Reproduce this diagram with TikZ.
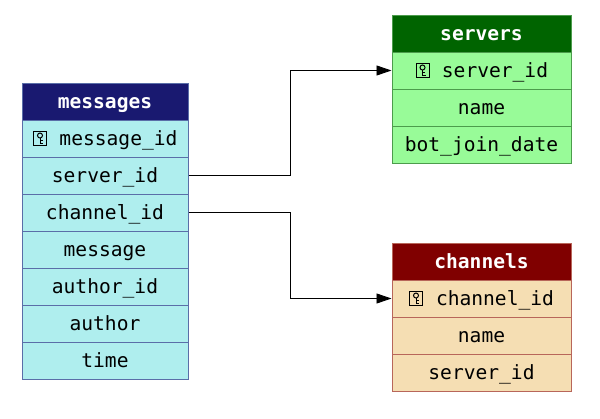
\documentclass[tikz,border=0pt]{standalone}
\usepackage{fontspec}
\setmonofont{DejaVu Sans Mono}
\usetikzlibrary{arrows.meta}
\definecolor{mhead}{HTML}{191970}
\definecolor{mrow}{HTML}{AFEEEE}
\definecolor{mline}{HTML}{5A6EA8}
\definecolor{shead}{HTML}{006400}
\definecolor{srow}{HTML}{98FB98}
\definecolor{sline}{HTML}{4C9C4C}
\definecolor{chead}{HTML}{800000}
\definecolor{crow}{HTML}{F5DEB3}
\definecolor{cline}{HTML}{B8665A}
\newcommand{\keygap}{\hspace*{27pt}}
\tikzset{
  x=1pt,y=-1pt,
  cell/.style={draw,line width=1pt,inner sep=0pt,minimum height=37pt,anchor=center,
    font=\ttfamily\fontsize{19.6}{20}\selectfont,text depth=2pt,text height=16pt},
  headfont/.style={text=white,font=\ttfamily\bfseries\fontsize{19.6}{20}\selectfont},
  mh/.style={cell,fill=mhead,draw=mline,minimum width=166pt,headfont},
  mr/.style={cell,fill=mrow,draw=mline,minimum width=166pt},
  sh/.style={cell,fill=shead,draw=sline,minimum width=179pt,headfont},
  sr/.style={cell,fill=srow,draw=sline,minimum width=179pt},
  ch/.style={cell,fill=chead,draw=cline,minimum width=179pt,headfont},
  cr/.style={cell,fill=crow,draw=cline,minimum width=179pt},
  link/.style={draw=black,line width=0.9pt,-{Triangle[length=15pt,width=10pt]}},
  keyicon/.pic={
    \draw[line width=1pt] (-6.5,-7) rectangle (6.5,7);
    \draw[line width=1pt] (0,-3) circle (2.5);
    \draw[line width=1pt] (0,-0.5) -- (0,5) -- (3,5) (0,2.4) -- (2.6,2.4);
  }
}
\begin{document}
\begin{tikzpicture}
\useasboundingbox (0,0) rectangle (600,418);
\node[mh] (mt) at (105,101.5) {messages};
\node[mr] (m1) at (105,138.5) {\keygap message\_id};
\node[mr] (m2) at (105,175.5) {server\_id};
\node[mr] (m3) at (105,212.5) {channel\_id};
\node[mr] (m4) at (105,249.5) {message};
\node[mr] (m5) at (105,286.5) {author\_id};
\node[mr] (m6) at (105,323.5) {author};
\node[mr] (m7) at (105,360.5) {time};
\node[sh] (st) at (481.5,33.5) {servers};
\node[sr] (s1) at (481.5,70.5) {\keygap server\_id};
\node[sr] (s2) at (481.5,107.5) {name};
\node[sr] (s3) at (481.5,144.5) {bot\_join\_date};
\node[ch] (ct) at (481.5,261.5) {channels};
\node[cr] (c1) at (481.5,298.5) {\keygap channel\_id};
\node[cr] (c2) at (481.5,335.5) {name};
\node[cr] (c3) at (481.5,372.5) {server\_id};
\pic at ([xshift=-65pt]m1.center) {keyicon};
\pic at ([xshift=-59pt]s1.center) {keyicon};
\pic at ([xshift=-65.5pt]c1.center) {keyicon};
\coordinate (mx) at (290.5,0);
\draw[link] (m2.east) -- (m2.east -| mx) |- (s1.west);
\draw[link] (m3.east) -- (m3.east -| mx) |- (c1.west);
\end{tikzpicture}
\end{document}
